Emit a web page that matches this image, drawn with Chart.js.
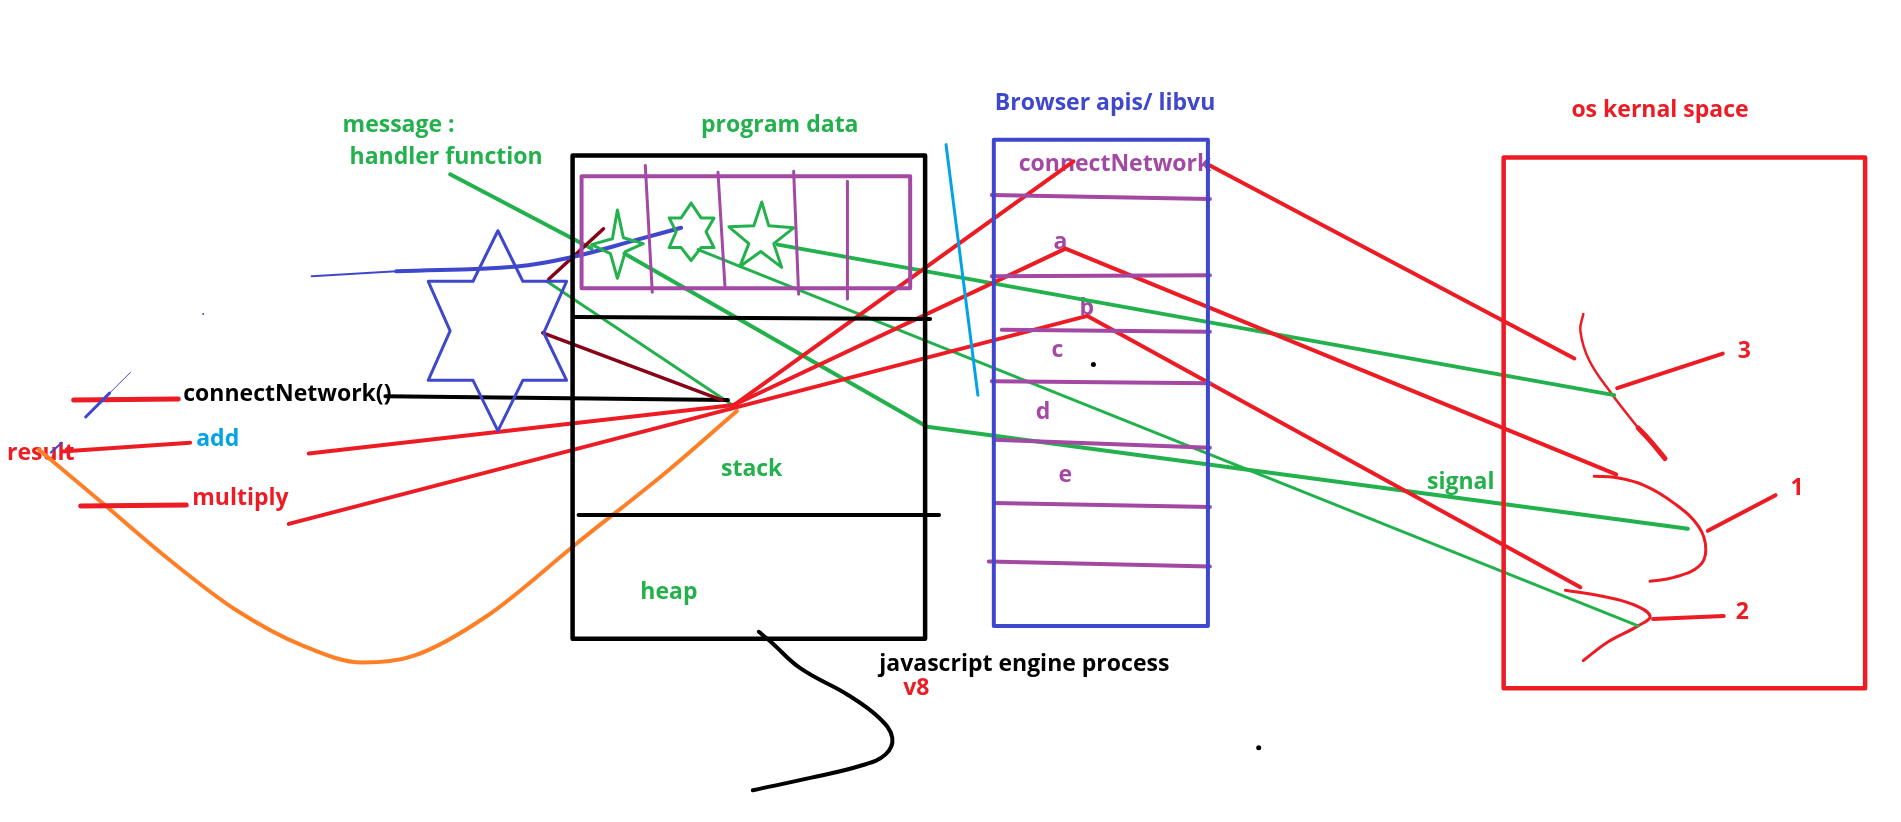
<!DOCTYPE html>
<html>
<head>
<meta charset="utf-8">
<script src="https://cdn.jsdelivr.net/npm/chart.js@4"></script>
<style>
html, body { margin: 0; padding: 0; background: #fff; overflow: hidden; }
canvas { display: block; }
</style>
</head>
<body>
<canvas id="sketch" width="1901" height="822"></canvas>
<script>
// strokes of the sketch, [x, y] in picture pixels (y grows downward)
var engineBox = [[571,153],[925,153],[925,641],[571,641],[571,153]];
var engineSplit1 = [[573,316],[930,318]];
var engineSplit2 = [[577,516],[939,516]];
var dataBox = [[580,174],[910,174],[910,287],[580,287],[580,174]];
var dataDiv1 = [[644,163],[651,291]];
var dataDiv2 = [[717,170],[724,285]];
var dataDiv3 = [[793,169],[798,293]];
var dataDiv4 = [[847,179],[847,298]];
var star1 = [[616,208],[622,236],[642,242],[624,250],[616,277],[609,252],[590,243],[611,237],[616,208]];
var star2 = [[690,201],[700,216],[713,216],[705,230],[713,246],[700,246],[690,259],[680,246],[668,246],[675,230],[668,216],[680,216],[690,201]];
var star3 = [[761,200],[768,224],[793,226],[773,242],[781,266],[760,250],[739,265],[748,242],[728,225],[753,224],[761,200]];
var bigStar = [[496,229],[471,280],[426,280],[448,330],[426,380],[471,380],[496,431],[521,380],[565,380],[542,332],[565,280],[521,280],[496,229]];
var blueTail = [[309,275],[394,270]];
var blueArc = [[394,270],[515,265],[573,255],[636,238],[680,226]];
var blueSlash = [[82,417],[106,393]];
var blueSlashThin = [[106,393],[127,372]];
var blueNick = [[47,453],[58,443]];
var darkRed1 = [[602,227],[547,278]];
var darkRed2 = [[541,332],[721,400]];
var greenHandler = [[448,172],[590,247]];
var greenStar1 = [[623,252],[927,427],[1691,530]];
var greenStar2 = [[697,248],[1641,628]];
var greenStar3 = [[777,243],[1617,395]];
var greenBigStar = [[545,280],[733,406]];
var redToConnect = [[733,405],[1074,159]];
var redToA = [[733,405],[1066,247],[1619,475]];
var redMultiply = [[286,525],[1088,315],[1583,589]];
var redAdd = [[306,454],[733,405]];
var redConnectOut = [[1211,163],[1577,358]];
var blackCall = [[383,396],[727,400]];
var redTickCall = [[70,400],[175,399]];
var redTickAdd = [[58,452],[187,443]];
var redTickMul = [[77,507],[183,506]];
var orangeResult = [[35,450],[100,505],[167,562],[233,612],[300,648],[360,665],[412,658],[485,618],[576,544],[667,471],[736,411]];
var blackTail = [[758,634],[770,644],[800,671],[848,698],[879,721],[892,741],[885,758],[861,769],[812,781],[752,794]];
var cyanBar = [[946,142],[978,395]];
var apiBox = [[994,137],[1209,137],[1209,628],[994,628],[994,137]];
var apiRows = [
  [[992,193],[1211,197]],
  [[992,275],[1211,274]],
  [[1002,329],[1211,331]],
  [[992,381],[1211,383]],
  [[994,440],[1211,448]],
  [[994,504],[1211,508]],
  [[989,563],[1211,568]]
];
var kernelBox = [[1506,155],[1869,155],[1869,691],[1506,691],[1506,155]];
var curve3Thin = [[1586,313],[1583,330],[1592,360],[1614,393],[1641,428]];
var curve3Thick = [[1641,428],[1653,441],[1668,459]];
var line3 = [[1620,388],[1726,353]];
var curve1 = [[1597,477],[1617,478],[1647,486],[1677,504],[1702,528],[1709,551],[1702,568],[1677,579],[1653,583]];
var line1 = [[1711,532],[1779,496]];
var curve2 = [[1568,592],[1605,598],[1635,606],[1653,618],[1641,628],[1611,644],[1586,663]];
var line2 = [[1656,621],[1727,618]];
var blackDots = [[1094,364],[1260,751]];
var blueDots = [[200,313]];

// text of the sketch
var labelTexts = ['message :', 'handler function', 'program data', 'Browser apis/ libvu', 'os kernal space',
  'connectNetwork', 'a', 'b', 'c', 'd', 'e', 'connectNetwork()', 'add', 'result', 'multiply',
  'stack', 'heap', 'javascript engine process', 'v8', 'signal', '3', '1', '2'];
var labelX = [340, 347, 700, 995, 1574, 1019, 1054, 1080, 1052, 1036, 1059, 180, 193, 3, 189, 720, 639, 879, 903, 1429, 1741, 1794, 1739];
var labelY = [123, 155, 123, 100, 108, 162, 241, 307, 350, 412, 476, 394, 440, 454, 499, 470, 594, 667, 691, 483, 351, 489, 614];

var RED = '#ed1c24', GREEN = '#22b14c', BLUE = '#3f48cc', PURPLE = '#a349a4',
    ORANGE = '#ff7f27', DARKRED = '#880015', CYAN = '#00a2e8', BLACK = '#000000';
var labelColors = [GREEN, GREEN, GREEN, BLUE, RED, PURPLE, PURPLE, PURPLE, PURPLE, PURPLE, PURPLE,
  BLACK, CYAN, RED, RED, GREEN, GREEN, BLACK, RED, GREEN, RED, RED, RED];

function pts(a) {
  return a.map(function(p) { return {x: p[0], y: p[1]}; });
}
function stroke(a, color, width, tension) {
  return {
    data: pts(a),
    showLine: true,
    borderColor: color,
    borderWidth: width,
    pointRadius: 0,
    tension: tension || 0,
    fill: false,
    borderCapStyle: 'round',
    borderJoinStyle: 'round'
  };
}
function dotSet(a, color, r) {
  return {data: pts(a), showLine: false, pointRadius: r, pointBackgroundColor: color, pointBorderWidth: 0};
}

var orangeStroke = stroke(orangeResult, ORANGE, 4);
orangeStroke.cubicInterpolationMode = 'monotone';

var datasets = [
  stroke(engineBox, BLACK, 4.5),
  stroke(engineSplit1, BLACK, 4),
  stroke(engineSplit2, BLACK, 4),
  stroke(dataBox, PURPLE, 4),
  stroke(dataDiv1, PURPLE, 3),
  stroke(dataDiv2, PURPLE, 3),
  stroke(dataDiv3, PURPLE, 3),
  stroke(dataDiv4, PURPLE, 3),
  stroke(apiBox, BLUE, 4),
  stroke(kernelBox, RED, 4.5),
  stroke(cyanBar, CYAN, 3)
];
apiRows.forEach(function(r) { datasets.push(stroke(r, PURPLE, 4)); });
datasets = datasets.concat([
  stroke(star1, GREEN, 3),
  stroke(star2, GREEN, 3),
  stroke(star3, GREEN, 3),
  stroke(bigStar, BLUE, 3),
  stroke(blueTail, BLUE, 2),
  stroke(blueArc, BLUE, 4, 0.4),
  stroke(blueSlash, BLUE, 3),
  stroke(blueSlashThin, BLUE, 1),
  stroke(blueNick, BLUE, 2),
  stroke(darkRed1, DARKRED, 3.5),
  stroke(darkRed2, DARKRED, 3.5),
  stroke(blackCall, BLACK, 4),
  stroke(redTickCall, RED, 5),
  stroke(redTickAdd, RED, 4),
  stroke(redTickMul, RED, 5),
  stroke(redAdd, RED, 4),
  stroke(redMultiply, RED, 4),
  stroke(redToConnect, RED, 4),
  stroke(redToA, RED, 4),
  stroke(redConnectOut, RED, 4),
  stroke(greenHandler, GREEN, 4),
  stroke(greenStar1, GREEN, 4),
  stroke(greenStar2, GREEN, 3),
  stroke(greenStar3, GREEN, 4),
  stroke(greenBigStar, GREEN, 3),
  orangeStroke,
  stroke(blackTail, BLACK, 4, 0.4),
  stroke(curve3Thin, RED, 2.5, 0.4),
  stroke(curve3Thick, RED, 5, 0.4),
  stroke(line3, RED, 4),
  stroke(curve1, RED, 3, 0.4),
  stroke(line1, RED, 4),
  stroke(curve2, RED, 3, 0.4),
  stroke(line2, RED, 4),
  dotSet(blackDots, BLACK, 2.5),
  dotSet(blueDots, BLUE, 1)
]);

var sketchText = {
  id: 'sketchText',
  beforeDatasetsDraw: function(chart) {
    var ctx = chart.ctx, sx = chart.scales.x, sy = chart.scales.y;
    ctx.save();
    ctx.font = 'bold 23px "Open Sans"';
    ctx.textAlign = 'left';
    ctx.textBaseline = 'middle';
    labelTexts.forEach(function(t, i) {
      ctx.fillStyle = labelColors[i];
      ctx.fillText(t, sx.getPixelForValue(labelX[i]), sy.getPixelForValue(labelY[i]));
    });
    ctx.restore();
  }
};

var ctx = document.getElementById('sketch').getContext('2d');
var chart = new Chart(ctx, {
  type: 'scatter',
  data: { datasets: datasets },
  options: {
    responsive: false,
    animation: false,
    events: [],
    layout: { padding: 0 },
    plugins: { legend: { display: false }, tooltip: { enabled: false } },
    scales: {
      x: { type: 'linear', min: 0, max: 1901, display: false },
      y: { type: 'linear', min: 0, max: 822, reverse: true, display: false }
    }
  },
  plugins: [sketchText]
});
</script>
</body>
</html>
